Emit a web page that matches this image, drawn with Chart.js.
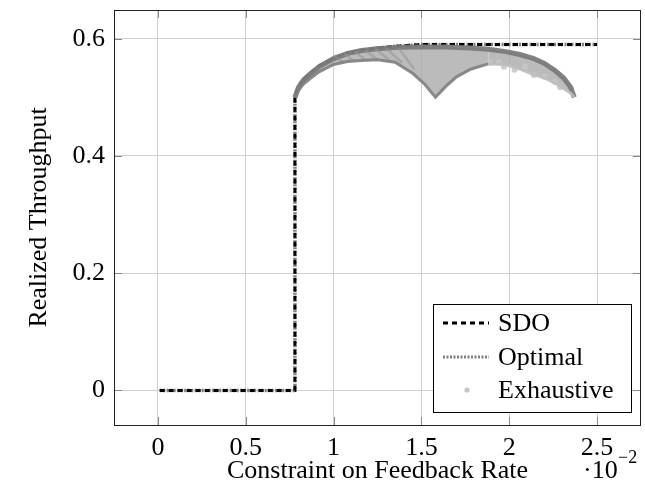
<!DOCTYPE html>
<html>
<head>
<meta charset="utf-8">
<script src="https://cdn.jsdelivr.net/npm/chart.js@4.4.1/dist/chart.umd.min.js"></script>
<style>
  html, body { margin: 0; padding: 0; background: #fff; }
</style>
</head>
<body>
<canvas id="c" width="645" height="496"></canvas>
<script>
// constraint on feedback rate (x) vs realized throughput (y)
const rateX    = [0.0001, 0.0078, 0.0078, 0.0080, 0.0083, 0.0087, 0.0092, 0.0100, 0.0108, 0.0116, 0.0125, 0.0135, 0.0150, 0.0200, 0.0250];
const sdoY     = [0, 0, 0.500, 0.517, 0.530, 0.541, 0.553, 0.566, 0.575, 0.580, 0.584, 0.587, 0.590, 0.590, 0.590];
const optimalY = [0, 0, 0.500, 0.517, 0.530, 0.541, 0.553, 0.566, 0.575, 0.580, 0.584, 0.587, 0.590, 0.590, 0.590];

// exhaustive search cloud: upper and lower edges
const exX      = [0.0078, 0.0080, 0.0083, 0.0087, 0.0092, 0.0100, 0.0108, 0.0116, 0.0125, 0.0135, 0.0145, 0.0152, 0.0158,
                  0.0164, 0.0170, 0.0178, 0.0188, 0.0198, 0.0206, 0.0214, 0.0220, 0.0226, 0.0231, 0.0235, 0.0237];
const exUpperY = [0.500, 0.517, 0.530, 0.541, 0.553, 0.566, 0.575, 0.580, 0.583, 0.585, 0.586, 0.586, 0.586,
                  0.586, 0.585, 0.584, 0.582, 0.578, 0.573, 0.566, 0.558, 0.546, 0.533, 0.517, 0.500];
const exLowerY = [0.500, 0.512, 0.523, 0.533, 0.544, 0.556, 0.561, 0.563, 0.564, 0.560, 0.541, 0.522, 0.500,
                  0.519, 0.535, 0.548, 0.557, 0.556, 0.548, 0.539, 0.533, 0.524, 0.515, 0.507, 0.500];
// diagonal rows of points in the left part of the cloud (null = break between rows)
const exRowsX  = [0.0100, 0.0105, null, 0.0106, 0.0111, null, 0.0112, 0.0118, null, 0.0118, 0.0125, null,
                  0.0124, 0.0132, null, 0.0130, 0.0139, null, 0.0137, 0.0146, null];
const exRowsY  = [0.572, 0.561, null, 0.575, 0.563, null, 0.578, 0.564, null, 0.580, 0.564, null,
                  0.582, 0.563, null, 0.583, 0.559, null, 0.584, 0.548, null];
// loose light dots in the right lobe
const exDotsX  = [0.0189, 0.0194, 0.0197, 0.0203, 0.0209, 0.0214, 0.0220, 0.0226, 0.0229];
const exDotsY  = [0.559, 0.560, 0.552, 0.547, 0.552, 0.538, 0.535, 0.526, 0.517];

const xTicks = [0, 0.005, 0.01, 0.015, 0.02, 0.025];
const yTicks = [0, 0.2, 0.4, 0.6];

const serif = "'Liberation Serif', 'DejaVu Serif', serif";
const pts = (xs, ys) => xs.map((x, i) => ({ x: x, y: ys[i] }));

const frame = {
  id: 'frame',
  afterDatasetsDraw(chart) {
    const { ctx, chartArea: a, scales } = chart;
    ctx.save();
    ctx.strokeStyle = '#888';
    ctx.lineWidth = 1;
    ctx.beginPath();
    xTicks.forEach(v => {
      const px = Math.round(scales.x.getPixelForValue(v)) + 0.5;
      ctx.moveTo(px, a.bottom); ctx.lineTo(px, a.bottom - 8);
      ctx.moveTo(px, a.top); ctx.lineTo(px, a.top + 8);
    });
    yTicks.forEach(v => {
      const py = Math.round(scales.y.getPixelForValue(v)) + 0.5;
      ctx.moveTo(a.left, py); ctx.lineTo(a.left + 8, py);
      ctx.moveTo(a.right, py); ctx.lineTo(a.right - 8, py);
    });
    ctx.stroke();
    ctx.strokeStyle = '#222';
    ctx.strokeRect(Math.round(a.left) + 0.5, Math.round(a.top) + 0.5,
                   Math.round(a.right - a.left) - 1, Math.round(a.bottom - a.top));
    ctx.restore();
  },
  afterDraw(chart) {
    const { ctx, chartArea: a } = chart;
    ctx.save();
    ctx.fillStyle = '#000';
    ctx.font = '26px ' + serif;
    ctx.textAlign = 'center';
    ctx.textBaseline = 'alphabetic';
    ctx.fillText('Constraint on Feedback Rate', (a.left + a.right) / 2, 478);
    ctx.textAlign = 'left';
    ctx.fillText('\u00b710', 583, 478);
    ctx.font = '18px ' + serif;
    ctx.fillText('\u22122', 618, 463);
    ctx.font = '26px ' + serif;
    ctx.translate(46, (a.top + a.bottom) / 2);
    ctx.rotate(-Math.PI / 2);
    ctx.textAlign = 'center';
    ctx.fillText('Realized Throughput', 0, 0);
    ctx.restore();

    // legend
    ctx.save();
    ctx.fillStyle = '#fff';
    ctx.fillRect(433.5, 304.5, 198, 108);
    ctx.strokeStyle = '#000';
    ctx.lineWidth = 1;
    ctx.strokeRect(433.5, 304.5, 198, 108);
    ctx.lineWidth = 3;
    ctx.strokeStyle = '#000';
    ctx.setLineDash([5, 4]);
    ctx.beginPath(); ctx.moveTo(443, 323); ctx.lineTo(489, 323); ctx.stroke();
    ctx.strokeStyle = '#7f7f7f';
    ctx.setLineDash([2, 1.5]);
    ctx.beginPath(); ctx.moveTo(443, 357); ctx.lineTo(489, 357); ctx.stroke();
    ctx.setLineDash([]);
    ctx.fillStyle = '#c8c8c8';
    ctx.beginPath(); ctx.arc(467, 390, 2.6, 0, Math.PI * 2); ctx.fill();
    ctx.fillStyle = '#000';
    ctx.font = '26px ' + serif;
    ctx.textBaseline = 'middle';
    ctx.textAlign = 'left';
    ctx.fillText('SDO', 498, 324);
    ctx.fillText('Optimal', 498, 358);
    ctx.fillText('Exhaustive', 498, 391);
    ctx.restore();
  }
};

new Chart(document.getElementById('c'), {
  type: 'line',
  data: {
    datasets: [
      {
        label: 'Exhaustive',
        data: pts(exX, exLowerY),
        borderWidth: 3,
        pointRadius: 0,
        fill: false,
        segment: {
          borderColor: c => c.p1.parsed.x <= 0.0188 ? 'rgba(128,128,128,0.9)' : 'rgba(190,190,190,0.9)'
        },
        order: 0
      },
      {
        label: 'Exhaustive',
        data: pts(exX, exUpperY),
        borderColor: 'rgba(122,122,122,0.95)',
        backgroundColor: 'rgba(170,170,170,0.8)',
        borderWidth: 5,
        pointRadius: 0,
        fill: '-1',
        order: 1
      },
      {
        label: 'Exhaustive',
        data: pts(exRowsX, exRowsY),
        borderColor: 'rgba(150,150,150,0.55)',
        borderWidth: 2.5,
        pointRadius: 0,
        spanGaps: false,
        fill: false,
        order: 0
      },
      {
        label: 'Exhaustive',
        data: pts(exDotsX, exDotsY),
        showLine: false,
        pointRadius: 3,
        pointBorderWidth: 0,
        pointBackgroundColor: 'rgba(200,200,200,0.9)',
        order: 0
      },
      {
        label: 'SDO',
        data: pts(rateX, sdoY),
        borderColor: '#000',
        borderWidth: 3,
        borderDash: [5, 4],
        pointRadius: 0,
        fill: false,
        order: 3
      },
      {
        label: 'Optimal',
        data: pts(rateX, optimalY),
        borderColor: '#7f7f7f',
        borderWidth: 3.5,
        borderDash: [2, 1.5],
        pointRadius: 0,
        fill: false,
        order: 4
      }
    ]
  },
  options: {
    responsive: false,
    animation: false,
    devicePixelRatio: 1,
    layout: { padding: { top: 10, right: 2, left: 0, bottom: 0 } },
    plugins: { legend: { display: false }, tooltip: { enabled: false } },
    elements: { line: { tension: 0 } },
    scales: {
      x: {
        type: 'linear',
        min: -0.0025,
        max: 0.0275,
        afterBuildTicks: s => { s.ticks = xTicks.map(v => ({ value: v })); },
        afterFit: s => { s.height = 71; s.paddingLeft = 0; s.paddingRight = 0; },
        grid: { color: '#d0d0d0', drawTicks: false },
        border: { display: false },
        ticks: {
          padding: 8,
          color: '#000',
          font: { family: serif, size: 26 },
          callback: v => String(Math.round(v * 1000) / 10)
        }
      },
      y: {
        min: -0.059,
        max: 0.649,
        afterBuildTicks: s => { s.ticks = yTicks.map(v => ({ value: v })); },
        afterFit: s => { s.width = 114; s.paddingTop = 0; s.paddingBottom = 0; },
        grid: { color: '#d0d0d0', drawTicks: false },
        border: { display: false },
        ticks: {
          padding: 9,
          color: '#000',
          font: { family: serif, size: 26 },
          callback: v => v === 0 ? '0' : v.toFixed(1)
        }
      }
    }
  },
  plugins: [frame]
});
</script>
</body>
</html>
